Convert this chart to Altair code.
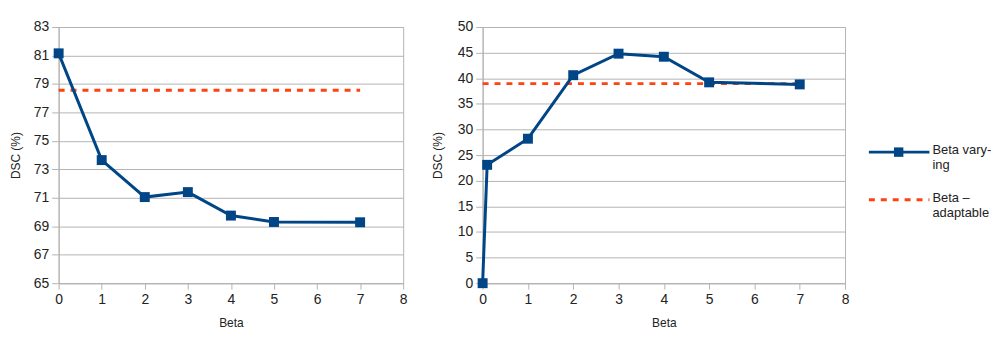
import altair as alt
import pandas as pd

# ---- data ----
beta_left = [0, 1, 2, 3, 4, 5, 7]
dsc_left = [81.15, 73.65, 71.05, 71.4, 69.75, 69.3, 69.28]
adapt_left = 78.55

beta_right = [0, 0.1, 1, 2, 3, 4, 5, 7]
dsc_right = [0.0, 23.1, 28.2, 40.6, 44.8, 44.2, 39.2, 38.8]
adapt_right = 38.95

adapt_beta_span = [0, 7]
series_names = ["Beta varying", "Beta – adaptable"]
legend_labels = ["Beta vary-\ning", "Beta –\nadaptable"]
left_y_ticks = list(range(65, 84, 2))
right_y_ticks = list(range(0, 51, 5))
x_ticks = list(range(0, 9))

BLUE = "#004586"
RED = "#ff420e"
GRID = "#b3b3b3"
FONT = "Liberation Sans"
PLOT_H = 258


def panel(betas, dscs, adapt, ydomain, yticks, width, title_pad):
    df = pd.DataFrame({"beta": betas, "dsc": dscs})
    adf = pd.DataFrame({"beta": adapt_beta_span, "dsc": [adapt, adapt]})
    x = alt.X(
        "beta:Q",
        title="Beta",
        scale=alt.Scale(domain=[0, 8], nice=False),
        axis=alt.Axis(values=x_ticks, grid=False, labelFlush=False,
                      tickSize=6, labelPadding=3, titlePadding=12),
    )
    y = alt.Y(
        "dsc:Q",
        title="DSC (%)",
        scale=alt.Scale(domain=ydomain, nice=False, zero=False),
        axis=alt.Axis(values=yticks, grid=True, tickSize=7, labelPadding=3,
                      titlePadding=title_pad),
    )
    dashed = alt.Chart(adf).mark_line(
        color=RED, strokeDash=[6, 6], strokeWidth=3
    ).encode(x=x, y=y)
    line = alt.Chart(df).mark_line(color=BLUE, strokeWidth=3).encode(x=x, y=y)
    pts = alt.Chart(df).mark_point(
        shape="square", filled=True, size=100, color=BLUE, opacity=1
    ).encode(x=x, y=y)
    return alt.layer(dashed, line, pts).properties(
        width=width, height=PLOT_H,
        view=alt.ViewBackground(stroke=GRID, strokeWidth=1),
    )


left = panel(beta_left, dsc_left, adapt_left, [65, 83], left_y_ticks, 347, 11)
right = panel(beta_right, dsc_right, adapt_right, [0, 50], right_y_ticks, 365, 13)

# ---- legend panel (one entry per series) ----
entry_y = [126, 174]
entry_color = [BLUE, RED]
entry_dash = [[1, 0], [6, 6]]
ldf = pd.DataFrame({"series": series_names, "label": legend_labels})

legend_layers = []
for i, name in enumerate(series_names):
    sub = alt.Chart(ldf).transform_filter(alt.datum.series == name)
    legend_layers.append(
        sub.mark_rule(strokeWidth=3, color=entry_color[i], strokeDash=entry_dash[i]).encode(
            x=alt.value(0), x2=alt.value(61), y=alt.value(entry_y[i])
        )
    )
    if i == 0:
        legend_layers.append(
            sub.mark_point(shape="square", filled=True, size=90, opacity=1,
                           color=entry_color[i]).encode(
                x=alt.value(30), y=alt.value(entry_y[i])
            )
        )
    legend_layers.append(
        sub.mark_text(
            align="left", baseline="top", lineBreak="\n", fontSize=13, font=FONT,
            color="#222", lineHeight=15, dy=-8
        ).encode(x=alt.value(64), y=alt.value(entry_y[i]), text="label:N")
    )

legend = alt.layer(*legend_layers).properties(
    width=92, height=PLOT_H,
    view=alt.ViewBackground(strokeWidth=0),
)

plots = alt.hconcat(left, right, spacing=22)
chart = alt.hconcat(plots, legend, spacing=17).properties(
    padding={"left": 0, "top": 10, "right": 0, "bottom": 0}
).configure_axis(
    labelFont=FONT, labelFontSize=14, labelColor="#222",
    titleFont=FONT, titleFontSize=12, titleFontWeight="normal", titleColor="#222",
    domainColor=GRID, tickColor=GRID, gridColor=GRID, gridWidth=1,
)

chart.save("out.html", embed_options={"renderer": "svg", "actions": False})
